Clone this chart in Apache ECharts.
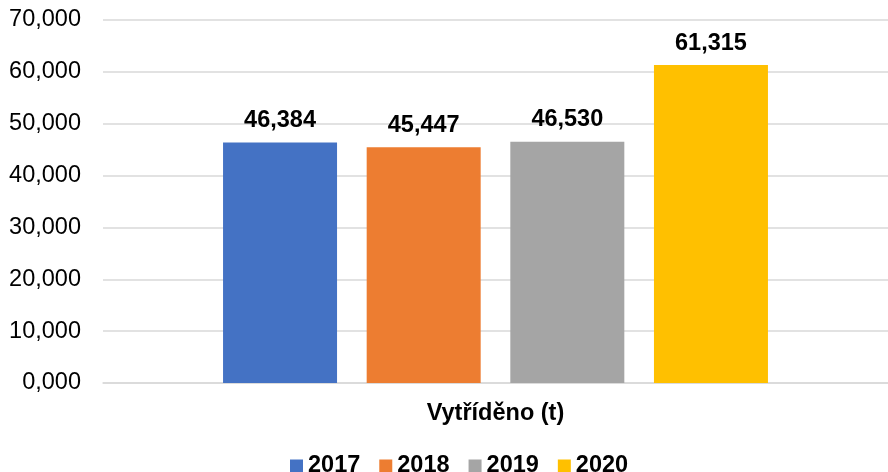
<html style="height: 100%">
<head>
	<meta charset="utf-8">
	<script type="text/javascript" src="https://cdn.jsdelivr.net/npm/echarts@6/dist/echarts.min.js"></script>
</head>
<body style="height: 100%; margin: 0; background: #fff">
	<div id="container" style="height:472px;width:888px"></div>
</body>
<script type="text/javascript">
	var dom = document.getElementById("container");
	var myChart = echarts.init(dom);

	// data
	let categories = ['Vytříděno (t)'];
	let years = ['2017', '2018', '2019', '2020'];
	let values = [46.384, 45.447, 46.530, 61.315];
	let colors = ['#4472c4', '#ed7d31', '#a5a5a5', '#ffc000'];

	// 46.384 -> "46,384"
	function fmt(v) {
		return Number(v).toFixed(3).replace('.', ',');
	}

	let series = years.map((y, i) => {
		return {
			name: y,
			type: 'bar',
			data: [values[i]],
			barWidth: 114,
			barGap: '26%',
			itemStyle: { color: colors[i] },
			label: {
				show: true,
				position: 'top',
				distance: 10,
				formatter: p => fmt(p.value),
				fontFamily: 'Liberation Sans, Arial',
				fontWeight: 'bold',
				fontSize: 23.5,
				color: '#000'
			}
		}
	});

	var option = {
		animation: false,
		textStyle: { fontFamily: 'Liberation Sans, Arial' },
		color: colors,
		grid: { left: 103, width: 791, top: 20, bottom: 89, containLabel: false },
		legend: {
			bottom: -11,
			left: 285,
			itemWidth: 13,
			itemHeight: 13,
			itemGap: 19,
			icon: 'rect',
			textStyle: { fontSize: 23.5, fontWeight: 'bold', color: '#000', fontFamily: 'Liberation Sans, Arial' },
			data: years
		},
		xAxis: {
			type: 'category',
			data: categories,
			axisTick: { show: false },
			axisLine: { lineStyle: { color: '#d9d9d9', width: 1.5 } },
			axisLabel: { fontSize: 23.5, fontWeight: 'bold', color: '#000', margin: 19 }
		},
		yAxis: {
			type: 'value',
			min: 0,
			max: 70,
			interval: 10,
			axisLine: { show: false },
			axisTick: { show: false },
			splitLine: { lineStyle: { color: '#d9d9d9', width: 1.5 } },
			axisLabel: { fontSize: 23.5, color: '#000', margin: 22, formatter: v => fmt(v) }
		},
		series: series
	};

	myChart.setOption(option);
</script>
</html>
